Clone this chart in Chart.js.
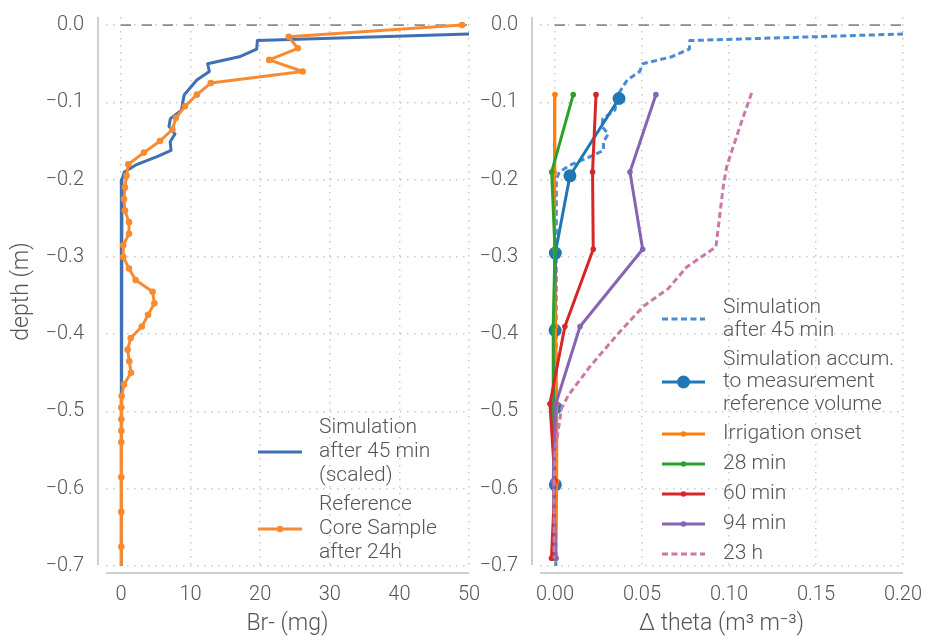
<!DOCTYPE html>
<html>
<head>
<meta charset="utf-8">
<script src="https://cdn.jsdelivr.net/npm/chart.js@4/dist/chart.umd.min.js"></script>
<style>
html,body{margin:0;padding:0;background:#ffffff;}
#wrap{position:relative;width:925px;height:636px;overflow:hidden;}
#wrap canvas{position:absolute;left:0;top:0;}
</style>
</head>
<body>
<div id="wrap">
<canvas id="left" width="925" height="636"></canvas>
<canvas id="right" width="925" height="636"></canvas>
</div>
<script>
// ---------------- data ----------------
const yTicks = [0, -0.1, -0.2, -0.3, -0.4, -0.5, -0.6, -0.7];
const brTicks = [0, 10, 20, 30, 40, 50];
const thetaTicks = [0, 0.05, 0.10, 0.15, 0.20];

// simulation depth nodes (m)
const depthSim = [-0.010, -0.020, -0.031, -0.041, -0.050, -0.060, -0.071, -0.090, -0.101, -0.110, -0.121, -0.131, -0.141, -0.151, -0.162, -0.170, -0.181, -0.190, -0.200, -0.700];
// Br- simulation after 45 min (scaled), mg
const brSim = [55.6, 19.6, 19.5, 17.0, 12.45, 12.7, 10.9, 9.1, 8.85, 8.7, 7.1, 6.9, 7.76, 7.07, 7.2, 5.27, 2.15, 0.48, 0.14, 0.05];

// reference core sample depths (m) and Br- (mg)
const depthCore = [0, -0.015, -0.03, -0.045, -0.06, -0.075, -0.09, -0.105, -0.12, -0.135, -0.15, -0.165, -0.18, -0.195, -0.21, -0.225, -0.24, -0.255, -0.27, -0.285, -0.30, -0.315, -0.33, -0.345, -0.36, -0.375, -0.39, -0.405, -0.42, -0.435, -0.45, -0.465, -0.48, -0.495, -0.51, -0.525, -0.54, -0.585, -0.63, -0.675, -0.72];
const brCore = [49.0, 24.1, 25.4, 21.3, 26.1, 12.9, 10.9, 9.2, 7.9, 7.4, 5.6, 3.3, 1.05, 0.8, 0.57, 0.43, 0.57, 1.15, 1.15, 0.33, 0.33, 1.15, 2.1, 4.55, 4.8, 3.9, 3.0, 1.4, 0.96, 1.2, 1.44, 0.43, 0.1, 0.05, 0.05, 0.05, 0.05, 0.05, 0.05, 0.05, 0.05];

// delta theta: simulation after 45 min
const thetaSim = [0.222, 0.0775, 0.0772, 0.067, 0.0505, 0.0487, 0.0415, 0.0362, 0.0350, 0.0345, 0.0275, 0.0270, 0.0306, 0.0278, 0.0280, 0.0205, 0.0090, 0.0025, 0.0008, 0.0005];
// simulation accumulated to measurement reference volume
const depthAccum = [-0.095, -0.195, -0.295, -0.395, -0.495, -0.595];
const thetaAccum = [0.0368, 0.0086, 0.0002, 0.0001, 0.0005, 0.0002];
// measurements
const depthMeas = [-0.09, -0.19, -0.29, -0.39, -0.49, -0.59, -0.69];
const thetaOnset = [0.0, -0.0005, 0.0, 0.0003, 0.001, 0.001, 0.0005];
const theta28 = [0.0105, -0.0019, 0.0, -0.001, -0.001, -0.0005, -0.0005];
const theta60 = [0.0236, 0.0216, 0.022, 0.0057, -0.0029, 0.0, -0.002];
const theta94 = [0.058, 0.0431, 0.0504, 0.0144, 0.0005, -0.001, 0.0006];
// 23 h
const depth23h = [-0.088, -0.131, -0.183, -0.209, -0.287, -0.313, -0.341, -0.364, -0.399, -0.442, -0.479, -0.496, -0.524, -0.554, -0.60, -0.69];
const theta23h = [0.113, 0.1063, 0.0987, 0.0967, 0.0925, 0.0757, 0.0651, 0.0508, 0.0364, 0.0201, 0.0077, 0.0038, 0.0019, 0.0, -0.0005, -0.0005];

const legendLeft = [["Simulation", "after 45 min", "(scaled)"], ["Reference", "Core Sample", "after 24h"]];
const legendRight = [["Simulation", "after 45 min"], ["Simulation accum.", "to measurement", "reference volume"], ["Irrigation onset"], ["28 min"], ["60 min"], ["94 min"], ["23 h"]];

// ---------------- style ----------------
const FONT = 'Roboto, "Noto Sans", "DejaVu Sans", sans-serif';
const TXT = '#555555';
const GRID = '#c9c9c9';
const AXIS = '#cfcfcf';
const Y_MIN = -0.7, Y_MAX = 0.0105;

function pts(depths, vals) { return vals.map((v, i) => ({x: v, y: depths[i]})); }
function fmtDepth(v) { const s = Math.abs(v) < 1e-9 ? '0.0' : v.toFixed(1); return s.replace('-', '\u2212'); }

const decor = {
  id: 'decor',
  beforeDatasetsDraw(chart, args, opts) {
    const {ctx, chartArea: ca, scales: {x, y}} = chart;
    const y0 = y.getPixelForValue(0);
    ctx.save();
    ctx.beginPath(); ctx.rect(ca.left, ca.top, ca.right - ca.left, ca.bottom - ca.top); ctx.clip();
    ctx.strokeStyle = '#8c8c8c'; ctx.lineWidth = 1.6; ctx.setLineDash([10, 11]);
    ctx.beginPath(); ctx.moveTo(x.getPixelForValue(0), y0); ctx.lineTo(ca.right, y0); ctx.stroke();
    ctx.restore();
  },
  afterDraw(chart, args, opts) {
    const {ctx, chartArea: ca} = chart;
    ctx.save();
    // offset axis lines
    ctx.strokeStyle = AXIS; ctx.lineWidth = 2; ctx.setLineDash([]);
    ctx.beginPath(); ctx.moveTo(ca.left - 8, ca.top); ctx.lineTo(ca.left - 8, ca.bottom - 1); ctx.stroke();
    ctx.beginPath(); ctx.moveTo(ca.left, ca.bottom + 7); ctx.lineTo(ca.right, ca.bottom + 7); ctx.stroke();
    // legend
    const L = opts.legend;
    ctx.font = '300 21px ' + FONT;
    ctx.textBaseline = 'middle'; ctx.textAlign = 'left';
    L.items.forEach((it, k) => {
      const ds = chart.data.datasets[it.ds];
      ctx.strokeStyle = ds.borderColor; ctx.lineWidth = ds.borderWidth;
      ctx.setLineDash(ds.borderDash || []);
      ctx.beginPath(); ctx.moveTo(L.x0, it.y); ctx.lineTo(L.x1, it.y); ctx.stroke();
      ctx.setLineDash([]);
      if (it.r) {
        ctx.fillStyle = ds.borderColor;
        ctx.beginPath(); ctx.arc((L.x0 + L.x1) / 2, it.y, it.r, 0, Math.PI * 2); ctx.fill();
      }
      ctx.fillStyle = TXT;
      const lines = L.text[k];
      const n = lines.length;
      lines.forEach((t, j) => {
        ctx.fillText(t, L.tx, it.y + (j - (n - 1) / 2) * L.lh);
      });
    });
    ctx.restore();
  }
};

function yScale(w, title) {
  return {
    type: 'linear', min: Y_MIN, max: Y_MAX,
    afterBuildTicks: s => { s.ticks = yTicks.map(v => ({value: v})); },
    afterFit: s => { s.width = w; s.paddingTop = 0; s.paddingBottom = 0; },
    ticks: {callback: v => fmtDepth(v), font: {family: FONT, size: 20, weight: '300'}, color: TXT, padding: 22},
    grid: {color: GRID, lineWidth: 1.5, drawTicks: false},
    border: {display: false, dash: [1.5, 5.5]},
    title: title ? {display: true, text: title, font: {family: FONT, size: 23, weight: '300', lineHeight: 1}, color: TXT, padding: {top: 10.5, bottom: 0}} : {display: false}
  };
}
function xScale(min, max, ticks, fmt, title) {
  return {
    type: 'linear', position: 'bottom', min: min, max: max,
    afterBuildTicks: s => { s.ticks = ticks.map(v => ({value: v})); },
    afterFit: s => { s.height = 70; s.paddingLeft = 0; s.paddingRight = 0; },
    ticks: {callback: fmt, font: {family: FONT, size: 20, weight: '300'}, color: TXT, padding: 17, maxRotation: 0, autoSkip: false},
    grid: {color: GRID, lineWidth: 1.5, drawTicks: false},
    border: {display: false, dash: [1.5, 5.5]},
    title: {display: true, text: title, font: {family: FONT, size: 23, weight: '300', lineHeight: 1}, color: TXT, padding: {top: 0, bottom: 0}}
  };
}
function line(label, data, color, extra) {
  return Object.assign({
    label: label, data: data, showLine: true, borderColor: color, backgroundColor: color,
    borderWidth: 3, pointRadius: 0, pointBorderWidth: 0, pointBackgroundColor: color,
    borderJoinStyle: 'round', tension: 0, fill: false
  }, extra || {});
}
const common = {
  responsive: false, animation: false, events: [],
  plugins: {legend: {display: false}, tooltip: {enabled: false}}
};

new Chart(document.getElementById('left'), {
  type: 'scatter',
  data: {datasets: [
    line('Simulation after 45 min (scaled)', pts(depthSim, brSim), '#3f6fb4', {order: 2}),
    line('Reference Core Sample after 24h', pts(depthCore, brCore), '#f68b31', {order: 1, pointRadius: 3.3})
  ]},
  options: Object.assign({}, common, {
    layout: {padding: {left: 0, top: 17, right: 925 - 469, bottom: 0}},
    scales: {
      x: xScale(-2.15, 50, brTicks, v => String(v), 'Br- (mg)'),
      y: yScale(106, 'depth (m)')
    },
    plugins: Object.assign({}, common.plugins, {
      decor: {legend: {x0: 258, x1: 302, tx: 319, lh: 24, text: legendLeft,
        items: [{ds: 0, y: 452, r: 0}, {ds: 1, y: 529, r: 3.3}]}}
    })
  }),
  plugins: [decor]
});

new Chart(document.getElementById('right'), {
  type: 'scatter',
  data: {datasets: [
    line('Simulation after 45 min', pts(depthSim, thetaSim), '#4a8bd2', {order: 7, borderDash: [6, 3.5]}),
    line('Simulation accum. to measurement reference volume', pts(depthAccum, thetaAccum), '#1f77b4', {order: 6, pointRadius: 6.5}),
    line('Irrigation onset', pts(depthMeas, thetaOnset), '#ff7f0e', {order: 5, pointRadius: 2.8}),
    line('28 min', pts(depthMeas, theta28), '#2ca02c', {order: 4, pointRadius: 2.8}),
    line('60 min', pts(depthMeas, theta60), '#d62728', {order: 3, pointRadius: 2.8}),
    line('94 min', pts(depthMeas, theta94), '#8664b2', {order: 2, pointRadius: 2.8}),
    line('23 h', pts(depth23h, theta23h), '#cc79a7', {order: 1, borderDash: [6, 3.5]})
  ]},
  options: Object.assign({}, common, {
    layout: {padding: {left: 0, top: 17, right: 22, bottom: 0}},
    scales: {
      x: xScale(-0.0086, 0.2, thetaTicks, v => Number(v).toFixed(2), '\u0394 theta (m\u00B3 m\u207B\u00B3)'),
      y: yScale(540, null)
    },
    plugins: Object.assign({}, common.plugins, {
      decor: {legend: {x0: 662, x1: 705, tx: 723, lh: 22.5, text: legendRight,
        items: [{ds: 0, y: 319, r: 0}, {ds: 1, y: 382, r: 6.5}, {ds: 2, y: 434, r: 2.8}, {ds: 3, y: 464, r: 2.8},
                {ds: 4, y: 494, r: 2.8}, {ds: 5, y: 524, r: 2.8}, {ds: 6, y: 554, r: 0}]}}
    })
  }),
  plugins: [decor]
});
</script>
</body>
</html>
